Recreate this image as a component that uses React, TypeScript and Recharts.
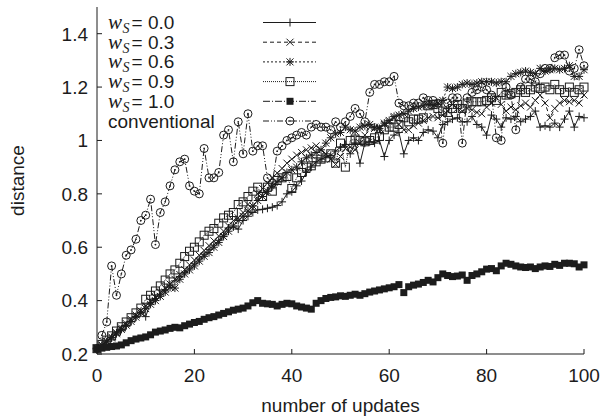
import React from 'react';
import { LineChart, Line, XAxis, YAxis, Legend } from 'recharts';

const updates = Array.from({ length: 101 }, (_, i) => i);

const ws00 = [
  0.22, 0.232, 0.246, 0.262, 0.28, 0.294, 0.306, 0.322, 0.34, 0.356,
  0.34, 0.392, 0.408, 0.424, 0.44, 0.458, 0.474, 0.49, 0.506, 0.522,
  0.538, 0.556, 0.574, 0.592, 0.608, 0.626, 0.646, 0.672, 0.676, 0.668,
  0.7, 0.716, 0.73, 0.74, 0.742, 0.746, 0.75, 0.756, 0.77, 0.8,
  0.808, 0.83, 0.848, 0.88, 0.9, 0.92, 0.93, 0.938, 0.944, 0.96,
  0.975, 0.985, 0.95, 0.99, 0.915, 0.99, 0.995, 0.99, 1.0, 0.94,
  1.0, 1.02, 1.03, 0.95, 1.0, 1.01, 1.0, 1.03, 1.04, 1.035,
  1.01, 1.06, 1.07, 1.08, 1.085, 1.07, 1.07, 1.09, 1.06, 1.05,
  1.02, 1.095, 1.08, 1.05, 1.085, 1.08, 1.09, 1.07, 1.08, 1.09,
  1.11, 1.05, 1.055, 1.05, 1.065, 1.05, 1.08, 1.11, 1.05, 1.09,
  1.085,
];

const ws03 = [
  0.22, 0.234, 0.248, 0.264, 0.28, 0.298, 0.314, 0.33, 0.346, 0.362,
  0.38, 0.396, 0.412, 0.43, 0.446, 0.462, 0.48, 0.498, 0.516, 0.534,
  0.552, 0.57, 0.588, 0.606, 0.624, 0.642, 0.66, 0.68, 0.7, 0.71,
  0.73, 0.76, 0.745, 0.8, 0.82, 0.84, 0.86, 0.878, 0.895, 0.915,
  0.93, 0.945, 0.955, 0.965, 0.972, 0.98, 0.965, 0.95, 0.93, 0.91,
  0.94, 0.97, 0.975, 0.965, 0.99, 1.02, 1.05, 1.045, 1.05, 1.06,
  1.07, 1.085, 1.06, 1.04, 1.04, 1.055, 1.065, 1.075, 1.085, 1.09,
  1.085, 1.095, 1.11, 1.135, 1.12, 1.11, 1.12, 1.115, 1.105, 1.1,
  1.125, 1.14, 1.16, 1.135, 1.11, 1.125, 1.115, 1.13, 1.14, 1.125,
  1.15, 1.17, 1.14, 1.085, 1.12, 1.14, 1.15, 1.145, 1.15, 1.14,
  1.17,
];

const ws06 = [
  0.22, 0.232, 0.245, 0.26, 0.276, 0.292, 0.308, 0.322, 0.338, 0.354,
  0.37, 0.386, 0.4, 0.416, 0.432, 0.45, 0.447, 0.48, 0.5, 0.515,
  0.53, 0.548, 0.566, 0.58, 0.6, 0.618, 0.64, 0.66, 0.68, 0.7,
  0.716, 0.735, 0.755, 0.775, 0.79, 0.81, 0.83, 0.845, 0.86, 0.88,
  0.89, 0.9, 0.92, 0.935, 0.945, 0.955, 0.965, 0.99, 1.01, 1.025,
  1.03, 1.05, 1.04, 1.035, 1.05, 1.055, 1.06, 1.05, 1.045, 1.065,
  1.075, 1.09, 1.095, 1.1, 1.11, 1.12, 1.125, 1.13, 1.135, 1.13,
  1.14, 1.15, 1.2, 1.195, 1.2, 1.21, 1.215, 1.21, 1.215, 1.22,
  1.22, 1.22, 1.215, 1.22, 1.22, 1.24, 1.25, 1.255, 1.26, 1.255,
  1.25, 1.27, 1.26, 1.265, 1.27, 1.265, 1.27, 1.28, 1.24, 1.24,
  1.265,
];

const ws09 = [
  0.22, 0.236, 0.252, 0.268, 0.286, 0.302, 0.32, 0.336, 0.354, 0.372,
  0.405, 0.42, 0.436, 0.455, 0.477, 0.5, 0.515, 0.54, 0.565, 0.585,
  0.6, 0.62, 0.645, 0.66, 0.67, 0.69, 0.71, 0.72, 0.73, 0.76,
  0.77, 0.79, 0.81, 0.825, 0.79, 0.825, 0.81, 0.85, 0.86, 0.865,
  0.82, 0.86, 0.88, 0.9, 0.905, 0.92, 0.93, 0.935, 0.95, 0.915,
  0.99, 0.9, 1.0, 1.005, 1.0, 0.995, 1.0, 1.01, 1.015, 1.04,
  1.05, 1.05, 1.06, 1.085, 1.07, 1.08, 1.08, 1.085, 1.13, 1.135,
  1.12, 1.11, 1.105, 1.12, 1.135, 1.12, 1.14, 1.145, 1.145, 1.145,
  1.15, 1.16, 1.15, 1.18, 1.17, 1.175, 1.18, 1.19, 1.18, 1.19,
  1.2, 1.195, 1.2, 1.19, 1.21, 1.19, 1.18, 1.2, 1.18, 1.19,
  1.2,
];

const ws10 = [
  0.22, 0.222, 0.225, 0.228, 0.23, 0.234, 0.242, 0.25, 0.256, 0.26,
  0.264, 0.272, 0.282, 0.286, 0.29, 0.296, 0.3, 0.298, 0.306, 0.312,
  0.318, 0.322, 0.33, 0.336, 0.34, 0.346, 0.352, 0.358, 0.364, 0.368,
  0.372, 0.38, 0.392, 0.4, 0.39, 0.388, 0.386, 0.38, 0.386, 0.39,
  0.388, 0.38, 0.376, 0.372, 0.368, 0.39, 0.4, 0.408, 0.412, 0.414,
  0.418, 0.416, 0.42, 0.424, 0.42, 0.426, 0.432, 0.436, 0.44, 0.444,
  0.448, 0.452, 0.46, 0.43, 0.452, 0.458, 0.462, 0.468, 0.476, 0.47,
  0.486, 0.5, 0.494, 0.49, 0.492, 0.496, 0.476, 0.494, 0.5, 0.508,
  0.518, 0.52, 0.512, 0.53, 0.54, 0.536, 0.53, 0.526, 0.524, 0.526,
  0.52, 0.526, 0.53, 0.528, 0.536, 0.532, 0.54, 0.54, 0.538, 0.526,
  0.534,
];

const conventional = [
  0.22, 0.27, 0.32, 0.53, 0.42, 0.5, 0.57, 0.59, 0.63, 0.7,
  0.72, 0.78, 0.61, 0.73, 0.77, 0.83, 0.89, 0.92, 0.93, 0.83,
  0.81, 0.8, 0.97, 0.86, 0.86, 0.88, 1.02, 1.04, 0.92, 1.07,
  0.95, 1.1, 0.96, 0.98, 0.98, 0.86, 0.84, 0.96, 0.98, 1.0,
  1.01, 1.02, 1.03, 1.02, 1.05, 1.06, 1.05, 1.05, 1.04, 1.07,
  1.05, 1.07, 1.09, 1.12, 1.1, 1.07, 1.18, 1.21, 1.21, 1.22,
  1.22, 1.24, 1.14, 1.13, 1.13, 1.14, 1.14, 1.16, 1.15, 1.15,
  1.14, 0.99, 1.14, 1.16, 1.16, 0.99, 1.16, 1.18, 1.19, 1.2,
  1.19, 1.17, 1.01, 1.0, 1.2, 1.17, 1.04, 1.2, 1.23, 1.23,
  1.22, 1.25, 1.27, 1.27, 1.31, 1.32, 1.32, 1.26, 1.27, 1.34,
  1.28,
];

const xTicks = [0, 20, 40, 60, 80, 100];
const yTicks = [0.2, 0.4, 0.6, 0.8, 1, 1.2, 1.4];

const INK = '#1c1c1c';
const FONT = '"Liberation Sans", Arial, Helvetica, sans-serif';
const SERIF = '"Liberation Serif", "Times New Roman", serif';

const data = updates.map((u, i) => ({
  u,
  ws00: ws00[i],
  ws03: ws03[i],
  ws06: ws06[i],
  ws09: ws09[i],
  ws10: ws10[i],
  conv: conventional[i],
}));

type Pt = { cx: number; cy: number };

function Plus({ cx, cy }: Pt) {
  return <path d={`M${cx - 4},${cy}H${cx + 4}M${cx},${cy - 4}V${cy + 4}`} stroke={INK} strokeWidth={1} fill="none" />;
}
function Cross({ cx, cy }: Pt) {
  const r = 3.5;
  return (
    <path
      d={`M${cx - r},${cy - r}L${cx + r},${cy + r}M${cx - r},${cy + r}L${cx + r},${cy - r}`}
      stroke={INK}
      strokeWidth={1}
      fill="none"
    />
  );
}
function Star({ cx, cy }: Pt) {
  const r = 3.5;
  return (
    <path
      d={`M${cx - r},${cy - r}L${cx + r},${cy + r}M${cx - r},${cy + r}L${cx + r},${cy - r}M${cx - 4},${cy}H${cx + 4}M${cx},${cy - 4}V${cy + 4}`}
      stroke={INK}
      strokeWidth={1}
      fill="none"
    />
  );
}
function OpenSquare({ cx, cy }: Pt) {
  return <rect x={cx - 4} y={cy - 4} width={8} height={8} stroke={INK} strokeWidth={1} fill="none" />;
}
function FilledSquare({ cx, cy }: Pt) {
  return <rect x={cx - 3.5} y={cy - 3.5} width={7} height={7} fill={INK} />;
}
function DotCircle({ cx, cy }: Pt) {
  return (
    <g>
      <circle cx={cx} cy={cy} r={4} stroke={INK} strokeWidth={1} fill="none" />
      <circle cx={cx} cy={cy} r={0.9} fill={INK} />
    </g>
  );
}

const markerFor = (M: (p: Pt) => React.ReactElement) => (p: any) =>
  p.cx == null || p.cy == null ? <g key={p.index} /> : <g key={p.index}><M cx={p.cx} cy={p.cy} /></g>;

const SERIES = [
  { key: 'ws00', value: '0.0', dash: undefined, Marker: Plus },
  { key: 'ws03', value: '0.3', dash: '4 3', Marker: Cross },
  { key: 'ws06', value: '0.6', dash: '2 2', Marker: Star },
  { key: 'ws09', value: '0.9', dash: '1 1', Marker: OpenSquare },
  { key: 'ws10', value: '1.0', dash: '7 2 1 2', Marker: FilledSquare },
  { key: 'conv', value: null, dash: '6 2 1 2 1 2', Marker: DotCircle },
];

const BottomTick = ({ x, y, payload }: any) => (
  <g>
    <line x1={x} x2={x} y1={y} y2={y - 5} stroke={INK} />
    <text x={x} y={y + 28} textAnchor="middle" fontFamily={FONT} fontSize={19} fill={INK}>
      {String(payload.value)}
    </text>
  </g>
);
const TopTick = ({ x, y }: any) => <line x1={x} x2={x} y1={y} y2={y + 5} stroke={INK} />;
const LeftTick = ({ x, y, payload }: any) => (
  <g>
    <line x1={x} x2={x + 5} y1={y} y2={y} stroke={INK} />
    <text x={x - 9} y={y} dy="0.36em" textAnchor="end" fontFamily={FONT} fontSize={19} fill={INK}>
      {String(payload.value)}
    </text>
  </g>
);
const RightTick = ({ x, y }: any) => <line x1={x} x2={x - 5} y1={y} y2={y} stroke={INK} />;

const YTitle = ({ viewBox }: any) => {
  const cx = 24;
  const cy = viewBox ? viewBox.y + viewBox.height / 2 : 180;
  return (
    <text x={cx} y={cy} transform={`rotate(-90 ${cx} ${cy})`} textAnchor="middle" fontFamily={FONT} fontSize={19} fill={INK}>
      distance
    </text>
  );
};

function KeyBox() {
  const rowY = [22.5, 42.2, 61.9, 81.6, 101.3, 121];
  return (
    <svg width={604} height={140} style={{ display: 'block' }}>
      {SERIES.map((s, i) => {
        const y = rowY[i];
        const M = s.Marker;
        return (
          <g key={s.key}>
            {s.value == null ? (
              <text x={108} y={y + 6.5} fontFamily={FONT} fontSize={19} fill={INK}>
                conventional
              </text>
            ) : (
              <text x={108} y={y + 6.5} fontFamily={FONT} fontSize={19} fill={INK}>
                <tspan fontFamily={SERIF} fontStyle="italic" fontSize={21}>w</tspan>
                <tspan fontFamily={SERIF} fontStyle="italic" fontSize={14} dx={0.5} dy={4}>S</tspan>
                <tspan dy={-4} dx={2}>{`= ${s.value}`}</tspan>
              </text>
            )}
            <line x1={263} x2={316} y1={y} y2={y} stroke={INK} strokeWidth={1} strokeDasharray={s.dash} />
            <M cx={290} cy={y} />
          </g>
        );
      })}
    </svg>
  );
}

export default function App() {
  return (
    <div style={{ position: 'absolute', left: 0, top: 0, width: 604, height: 419, background: '#fff' }}>
      <LineChart width={604} height={419} data={data} margin={{ top: 7, right: 20, bottom: 0, left: 0 }}>
        <XAxis
          dataKey="u"
          type="number"
          domain={[0, 100]}
          ticks={xTicks}
          height={65}
          tickLine={false}
          tickSize={0}
          tickMargin={0}
          axisLine={{ stroke: INK }}
          tick={<BottomTick />}
          label={{ value: 'number of updates', position: 'insideBottom', offset: 7, fontFamily: FONT, fontSize: 19, fill: INK }}
        />
        <XAxis
          xAxisId="top"
          dataKey="u"
          type="number"
          orientation="top"
          domain={[0, 100]}
          ticks={xTicks}
          height={0}
          tickLine={false}
          tickSize={0}
          tickMargin={0}
          axisLine={{ stroke: INK }}
          tick={<TopTick />}
        />
        <YAxis
          type="number"
          domain={[0.2, 1.5]}
          ticks={yTicks}
          width={97}
          tickLine={false}
          tickSize={0}
          tickMargin={0}
          axisLine={{ stroke: INK }}
          tick={<LeftTick />}
          label={<YTitle />}
        />
        <YAxis
          yAxisId="right"
          orientation="right"
          type="number"
          domain={[0.2, 1.5]}
          ticks={yTicks}
          width={0}
          tickLine={false}
          tickSize={0}
          tickMargin={0}
          axisLine={{ stroke: INK }}
          tick={<RightTick />}
        />
        <Legend
          layout="vertical"
          align="center"
          verticalAlign="middle"
          wrapperStyle={{ position: 'absolute', left: 0, top: 0, width: 604, height: 140 }}
          content={() => <KeyBox />}
        />
        {SERIES.map((s) => (
          <Line
            key={s.key}
            dataKey={s.key}
            type="linear"
            stroke={INK}
            strokeWidth={1}
            strokeDasharray={s.dash}
            dot={markerFor(s.Marker)}
            activeDot={false}
            isAnimationActive={false}
          />
        ))}
      </LineChart>
    </div>
  );
}
